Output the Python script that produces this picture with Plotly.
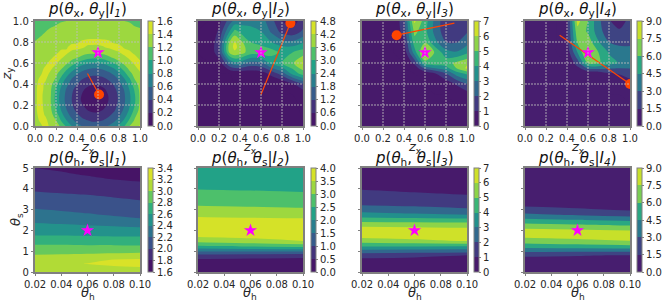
import plotly.graph_objects as go
from plotly.colors import sample_colorscale

W, H = 665, 303
FONT = "DejaVu Sans"

# ---------- top row data ----------
x1_vals = [i / 20 for i in range(21)]
y1_vals = [i / 20 for i in range(21)]
z1 = [
 [1.32,1.36,1.46,1.36,1.28,1.16,.96,.80,.68,.59,.54,.51,.51,.54,.61,.70,.83,.99,1.2,1.3,1.425],
 [1.33,1.42,1.44,1.32,1.21,.99,.81,.65,.54,.46,.41,.37,.38,.41,.47,.56,.68,.84,1.04,1.23,1.34],
 [1.35,1.45,1.39,1.27,1.11,.88,.69,.54,.44,.35,.29,.26,.26,.30,.37,.46,.57,.72,.92,1.16,1.30],
 [1.36,1.47,1.35,1.23,1.01,.79,.61,.47,.35,.26,.2,.16,.16,.21,.28,.37,.49,.64,.83,1.06,1.26],
 [1.37,1.46,1.34,1.21,.96,.74,.56,.42,.30,.21,.13,.09,.09,.14,.23,.32,.45,.59,.78,1.0,1.24],
 [1.37,1.455,1.33,1.2,.93,.71,.54,.40,.28,.17,.09,.05,.06,.10,.2,.30,.43,.57,.76,.97,1.23],
 [1.37,1.455,1.33,1.21,.94,.72,.55,.41,.29,.19,.11,.07,.07,.12,.21,.31,.44,.58,.77,.99,1.23],
 [1.36,1.47,1.35,1.22,.98,.76,.58,.44,.33,.23,.16,.12,.13,.17,.25,.35,.47,.61,.81,1.03,1.25],
 [1.35,1.46,1.37,1.26,1.06,.84,.66,.51,.41,.31,.25,.22,.23,.26,.33,.42,.54,.69,.88,1.11,1.28],
 [1.34,1.425,1.425,1.30,1.18,.94,.76,.60,.49,.41,.35,.32,.33,.36,.43,.51,.63,.79,.98,1.21,1.33],
 [1.33,1.37,1.47,1.36,1.25,1.09,.89,.74,.62,.53,.48,.46,.46,.49,.55,.64,.77,.93,1.14,1.27,1.37],
 [1.32,1.34,1.43,1.43,1.33,1.23,1.06,.90,.78,.69,.63,.60,.61,.64,.71,.80,.93,1.10,1.25,1.35,1.455],
 [1.30,1.33,1.36,1.455,1.42,1.32,1.24,1.11,.98,.89,.83,.80,.81,.84,.91,1.0,1.15,1.25,1.34,1.43,1.44],
 [1.28,1.31,1.34,1.37,1.46,1.42,1.34,1.27,1.21,1.13,1.06,1.03,1.04,1.07,1.15,1.22,1.28,1.35,1.43,1.45,1.36],
 [1.26,1.29,1.32,1.34,1.36,1.45,1.43,1.36,1.33,1.29,1.26,1.25,1.25,1.27,1.30,1.34,1.39,1.46,1.43,1.36,1.34],
 [1.24,1.27,1.29,1.32,1.34,1.355,1.38,1.46,1.455,1.425,1.37,1.36,1.36,1.39,1.425,1.46,1.455,1.38,1.35,1.33,1.31],
 [1.205,1.24,1.27,1.30,1.32,1.33,1.34,1.36,1.38,1.425,1.45,1.455,1.45,1.44,1.425,1.38,1.35,1.34,1.32,1.30,1.29],
 [1.18,1.20,1.235,1.265,1.29,1.31,1.32,1.33,1.34,1.35,1.355,1.36,1.36,1.355,1.35,1.34,1.33,1.32,1.31,1.285,1.26],
 [1.165,1.18,1.198,1.225,1.25,1.27,1.29,1.305,1.32,1.33,1.335,1.34,1.335,1.33,1.325,1.315,1.30,1.29,1.27,1.245,1.22],
 [1.14,1.16,1.175,1.19,1.205,1.23,1.25,1.265,1.28,1.285,1.29,1.295,1.295,1.29,1.285,1.275,1.26,1.245,1.225,1.20,1.19],
 [1.12,1.135,1.15,1.165,1.18,1.19,1.2,1.22,1.23,1.24,1.25,1.25,1.25,1.245,1.24,1.23,1.215,1.2,1.19,1.18,1.165],
]
x2_vals = [0,.1,.2,.3,.35,.4,.5,.6,.7,.8,.9,1.0]
y2_vals = [0,.3,.4,.5,.6,.7,.75,.8,.9,1.0]
z2 = [
 [0,0,0,0,0,0,0,0,0,0,0,0],
 [0,0,0,0,0,0,0,0,0,0,0,.1],
 [0,0,0,0,0,0,0,0,0,.05,.5,1.2],
 [0,0,0,0,.1,.1,.2,.3,.8,1.5,2.6,3.3],
 [0,0,.3,1.8,2.2,2.2,1.6,1.7,2.6,3.0,3.5,4.3],
 [0,.05,1.0,3.7,4.1,3.9,3.3,3.3,3.2,2.9,3.0,3.3],
 [0,.05,1.1,3.9,4.35,4.0,3.2,3.1,2.9,2.5,2.5,2.8],
 [0,.05,1.0,3.6,4.25,3.8,3.0,2.8,2.4,2.0,1.9,2.3],
 [0,.05,.7,2.4,3.2,2.9,2.6,2.4,1.7,1.0,.8,1.3],
 [0,0,.4,1.5,2.0,2.1,2.2,2.1,1.4,.6,.3,.9],
]
x3_vals = [0,.1,.2,.3,.4,.5,.6,.7,.8,.9,1.0]
y3_vals = [0,.1,.2,.3,.4,.5,.55,.6,.7,.8,.9,1.0]
z3 = [
 [0,0,0,0,0,0,0,0,0,0,0],
 [0,0,0,0,0,0,0,0,0,0,0],
 [0,0,0,0,0,0,0,0,0,0,0],
 [0,0,0,0,0,0,0,0,0,.2,.5],
 [0,0,0,0,0,0,0,.1,.3,1.1,2.0],
 [0,0,0,0,0,0,.3,1.0,2.0,3.5,4.2],
 [0,0,0,0,0,.3,2.2,3.0,3.6,5.0,6.2],
 [0,0,0,0,0,1.3,4.6,4.8,4.6,5.2,5.8],
 [0,0,0,0,.3,3.5,6.4,4.8,3.4,3.1,3.8],
 [0,0,0,0,.8,4.6,4.9,3.2,2.0,1.9,2.6],
 [0,0,0,.2,1.4,5.3,4.3,2.6,1.4,1.3,1.9],
 [0,0,0,.2,1.6,6.2,4.5,2.6,1.3,1.2,1.8],
]
x4_vals = [i / 10 for i in range(11)]
y4_vals = [i / 10 for i in range(11)]
z4 = [
 [0,0,0,0,0,0,0,0,0,0,0],
 [0,0,0,0,0,0,0,0,0,0,0],
 [0,0,0,0,0,0,0,0,0,0,0],
 [0,0,0,0,0,0,0,0,0,0,.1],
 [0,0,0,0,0,0,0,0,.1,.6,1.2],
 [0,0,0,0,0,.1,.2,.5,1.3,1.6,1.8],
 [0,0,0,0,0,2.2,6.2,6.2,5.0,4.4,4.3],
 [0,0,0,0,.5,4.5,8.0,6.0,4.4,3.7,3.5],
 [0,0,0,0,1.0,6.2,6.8,4.6,3.0,2.6,2.7],
 [0,0,0,0,1.2,7.0,5.8,3.7,1.9,1.7,2.0],
 [0,0,0,0,1.0,8.0,6.0,3.4,1.6,.9,1.9],
]

# ---------- bottom row data ----------
x_b5 = [.02, .04, .06, .08, .10]
x_b3 = [.02, .06, .10]
y_b = [0,.2,.4,.6,.8,1,1.25,1.5,1.75,2,2.25,2.5,2.75,3,3.25,3.5,3.75,4,4.25,4.5,4.75,5]
z5 = [
 [3.05,3.05,3.05,3.05,3.05],
 [3.10,3.12,3.14,3.16,3.18],
 [3.14,3.17,3.205,3.25,3.28],
 [3.11,3.13,3.16,3.20,3.22],
 [3.01,3.02,3.03,3.05,3.08],
 [2.94,2.94,2.95,2.95,2.95],
 [2.83,2.83,2.82,2.82,2.81],
 [2.70,2.70,2.70,2.70,2.70],
 [2.60,2.60,2.59,2.58,2.58],
 [2.52,2.51,2.49,2.48,2.46],
 [2.43,2.42,2.40,2.38,2.36],
 [2.36,2.33,2.30,2.27,2.23],
 [2.29,2.26,2.22,2.18,2.14],
 [2.21,2.18,2.15,2.11,2.08],
 [2.15,2.12,2.10,2.07,2.04],
 [2.10,2.07,2.05,2.02,1.99],
 [2.04,2.01,1.99,1.96,1.93],
 [1.96,1.94,1.92,1.90,1.87],
 [1.90,1.88,1.86,1.84,1.82],
 [1.87,1.85,1.82,1.79,1.77],
 [1.83,1.81,1.78,1.75,1.72],
 [1.80,1.78,1.74,1.71,1.68],
]
z6 = [
 [.05,.05,.05],[.1,.11,.12],[.25,.28,.3],[.45,.4,.35],[.85,.8,.75],[1.55,1.55,1.55],
 [2.45,2.6,2.75],[3.2,3.35,3.52],[3.6,3.65,3.7],[3.75,3.76,3.78],[3.8,3.78,3.75],
 [3.65,3.62,3.6],[3.4,3.35,3.3],[3.15,3.1,3.05],[2.95,2.92,2.9],[2.8,2.76,2.72],
 [2.65,2.6,2.55],[2.48,2.45,2.42],[2.38,2.35,2.33],[2.3,2.27,2.25],[2.2,2.17,2.15],[2.12,2.1,2.08],
]
z7 = [
 [.05,.05,.05],[.1,.1,.1],[.3,.32,.35],[.8,.75,.7],[1.45,1.25,1.0],[2.5,2.45,2.4],
 [4.2,4.15,4.1],[5.5,5.8,6.1],[6.45,6.5,6.5],[6.65,6.55,6.4],[5.7,5.65,5.6],
 [4.6,4.5,4.4],[3.4,3.2,3.0],[2.6,2.35,2.1],[1.9,1.8,1.7],[1.6,1.45,1.3],
 [1.25,1.1,.95],[.95,.8,.6],[.5,.42,.35],[.3,.25,.2],[.15,.12,.1],[.08,.06,.05],
]
z8 = [
 [.05,.05,.05],[.1,.1,.1],[.3,.32,.35],[.8,.78,.75],[1.9,1.65,1.4],[3.3,3.25,3.2],
 [5.3,5.5,5.7],[6.7,7.1,7.5],[8.1,8.25,8.4],[8.0,7.8,7.5],[6.5,6.2,5.9],
 [4.9,4.55,4.2],[3.3,2.85,2.4],[2.1,1.7,1.3],[1.1,.95,.8],[.6,.5,.4],
 [.35,.28,.2],[.2,.15,.1],[.1,.1,.1],[.1,.08,.05],[.05,.05,.05],[.05,.05,.05],
]

# ---------- levels and ticks ----------
levels = [(0,1.6,.2),(0,4.8,.6),(0,7,1),(0,9,1.5),(1.6,3.4,.2),(0,4,.5),(0,7,1),(0,9,1.5)]
# extra colour slots plotly keeps per panel (rounding of the level count drops one in panel 5)
color_extra = [1,1,1,1,0,1,1,1]
cb_ticks = [
 ["0.0","0.2","0.4","0.6","0.8","1.0","1.2","1.4","1.6"],
 ["0.0","0.6","1.2","1.8","2.4","3.0","3.6","4.2","4.8"],
 ["0","1","2","3","4","5","6","7"],
 ["0.0","1.5","3.0","4.5","6.0","7.5","9.0"],
 ["1.6","1.8","2.0","2.2","2.4","2.6","2.8","3.0","3.2","3.4"],
 ["0.0","0.5","1.0","1.5","2.0","2.5","3.0","3.5","4.0"],
 ["0","1","2","3","4","5","6","7"],
 ["0.0","1.5","3.0","4.5","6.0","7.5","9.0"],
]
grid_ticks = [0,.2,.4,.6,.8,1.0]
theta_h_ticks = [.02,.04,.06,.08,.10]
theta_s_ticks = [0,1,2,3,4,5]

star_top = ([.6],[.7])
star_bot = ([.06],[2])
seg_x = [[.5,.61],[.6,.88],[.88,.33],[.33,1.0]]
seg_y = [[.5,.3],[.3,.98],[.98,.865],[.865,.4]]

titles = ["I<sub>1</sub>","I<sub>2</sub>","I<sub>3</sub>","I<sub>4</sub>"]

# pixel layout
px_left = [35,198,362,525]
px_cb = [148,311,474,637]
PW = 105; CBW = 5
row_y = [(21,126),(168,272)]

fig = go.Figure()
MAG = "#ff00ff"; ORG = "#ff4500"; EDGE = "#808080"; TXT = "#262626"

def ax_name(i, pref):
    return pref + ("" if i == 0 else str(i+1))

def banded(n, extra):
    # plotly paints band k at (k+1)/(n+extra); give it viridis at the band's midpoint
    cols = sample_colorscale("Viridis", [(k+.5)/n for k in range(n)])
    scale = [[0,cols[0]]] + [[(k+1)/(n+extra),cols[k]] for k in range(n)]
    if extra:
        scale.append([1,cols[-1]])
    return scale

datasets = [(x1_vals,y1_vals,z1),(x2_vals,y2_vals,z2),(x3_vals,y3_vals,z3),(x4_vals,y4_vals,z4),
            (x_b5,y_b,z5),(x_b3,y_b,z6),(x_b3,y_b,z7),(x_b3,y_b,z8)]

def label(x, y, text, size, rot=0):
    fig.add_annotation(xref="paper",yref="paper",x=x/W,y=1-y/H,xanchor="center",yanchor="middle",
                       text=text,showarrow=False,textangle=rot,font=dict(family=FONT,size=size,color=TXT))

for i,(xs,ys,zs) in enumerate(datasets):
    r = i//4; c = i%4
    top,bot = row_y[r]
    x0,x1 = px_left[c]/W,(px_left[c]+PW)/W
    y0,y1 = 1-bot/H,1-top/H
    s,e,d = levels[i]
    n = round((e-s)/d)
    xa = ax_name(i,"x"); ya = ax_name(i,"y")
    fig.add_trace(go.Contour(x=xs,y=ys,z=zs,xaxis=xa,yaxis=ya,
        zmin=s,zmax=e,colorscale=banded(n,color_extra[i]),autocontour=False,
        contours=dict(start=s,end=e,size=d,coloring="fill",showlines=False),
        line=dict(width=0,smoothing=.9),hoverinfo="skip",
        colorbar=dict(x=px_cb[c]/W,xanchor="left",y=y0,yanchor="bottom",len=y1-y0,lenmode="fraction",
            thickness=CBW,thicknessmode="pixels",xpad=0,ypad=0,outlinecolor=EDGE,outlinewidth=1,
            tickmode="array",tickvals=[float(t) for t in cb_ticks[i]],ticktext=cb_ticks[i],
            ticks="outside",ticklen=2,tickcolor=EDGE,tickfont=dict(family=FONT,size=10,color=TXT))))
    common = dict(showgrid=False,zeroline=False,mirror=True,showline=True,linecolor=EDGE,linewidth=1.5,
                  ticks="outside",ticklen=2.5,tickcolor=EDGE,tickfont=dict(family=FONT,size=10,color=TXT),automargin=False)
    xkey = "xaxis" if i==0 else f"xaxis{i+1}"; ykey = "yaxis" if i==0 else f"yaxis{i+1}"
    if r==0:
        xt = grid_ticks; xr=[0,1]; yt=grid_ticks; yr=[0,1]
        xtext=[f"{t:.1f}" for t in xt]; ytext=[f"{t:.1f}" for t in yt]
        xl="<i>z</i><sub>x</sub>"; yl="<i>z</i><sub>y</sub>"
        tt=f"<i>p</i>(<i>θ</i><sub>x</sub>, <i>θ</i><sub>y</sub>|<i>{titles[c]}</i>)"
    else:
        xt = theta_h_ticks; xr=[.02,.10]; yt=theta_s_ticks; yr=[0,5]
        xtext=[f"{t:.2f}" for t in xt]; ytext=[str(t) for t in yt]
        xl="<i>θ</i><sub>h</sub>"; yl="<i>θ</i><sub>s</sub>"
        tt=f"<i>p</i>(<i>θ</i><sub>h</sub>, <i>θ</i><sub>s</sub>|<i>{titles[c]}</i>)"
    fig.update_layout({
        xkey: dict(domain=[x0,x1],range=xr,anchor=ya,tickmode="array",tickvals=xt,ticktext=xtext,**common),
        ykey: dict(domain=[y0,y1],range=yr,anchor=xa,tickmode="array",tickvals=yt,ticktext=ytext,
                   showticklabels=(c==0),**common),
    })
    label(px_left[c]+PW/2, 147 if r==0 else 293, xl, 13)
    if c==0:
        label(7 if r==0 else 16, (top+bot)/2, yl, 13, -90)
    fig.add_annotation(xref="paper",yref="paper",x=(x0+x1)/2,y=y1,yanchor="bottom",xanchor="center",yshift=0 if r==0 else -2,
                       text=tt,showarrow=False,font=dict(family=FONT,size=15,color="#111111"))
    if r==0:
        for t in grid_ticks[1:-1]:
            fig.add_shape(type="line",xref=xa,yref=ya,x0=t,x1=t,y0=0,y1=1,line=dict(color="rgba(190,190,190,.85)",width=1,dash="2px,1px"),layer="above")
            fig.add_shape(type="line",xref=xa,yref=ya,x0=0,x1=1,y0=t,y1=t,line=dict(color="rgba(190,190,190,.85)",width=1,dash="2px,1px"),layer="above")
        fig.add_trace(go.Scatter(x=seg_x[c],y=seg_y[c],mode="lines",line=dict(color=ORG,width=1.2),xaxis=xa,yaxis=ya,showlegend=False,hoverinfo="skip"))
        fig.add_trace(go.Scatter(x=[seg_x[c][1]],y=[seg_y[c][1]],mode="markers",marker=dict(color=ORG,size=10),xaxis=xa,yaxis=ya,showlegend=False,hoverinfo="skip"))
        sx,sy = star_top
    else:
        sx,sy = star_bot
    fig.add_trace(go.Scatter(x=sx,y=sy,mode="markers",marker=dict(symbol="star",color=MAG,size=10,line=dict(width=0)),xaxis=xa,yaxis=ya,showlegend=False,hoverinfo="skip"))

fig.update_layout(width=W,height=H,margin=dict(l=0,r=0,t=0,b=0,autoexpand=False),autosize=False,showlegend=False,
                  paper_bgcolor="white",plot_bgcolor="white",font=dict(family=FONT))
fig.write_html("out.html",config=dict(displayModeBar=False),
               post_script="document.body.style.margin='0';document.documentElement.style.overflow='hidden';")
